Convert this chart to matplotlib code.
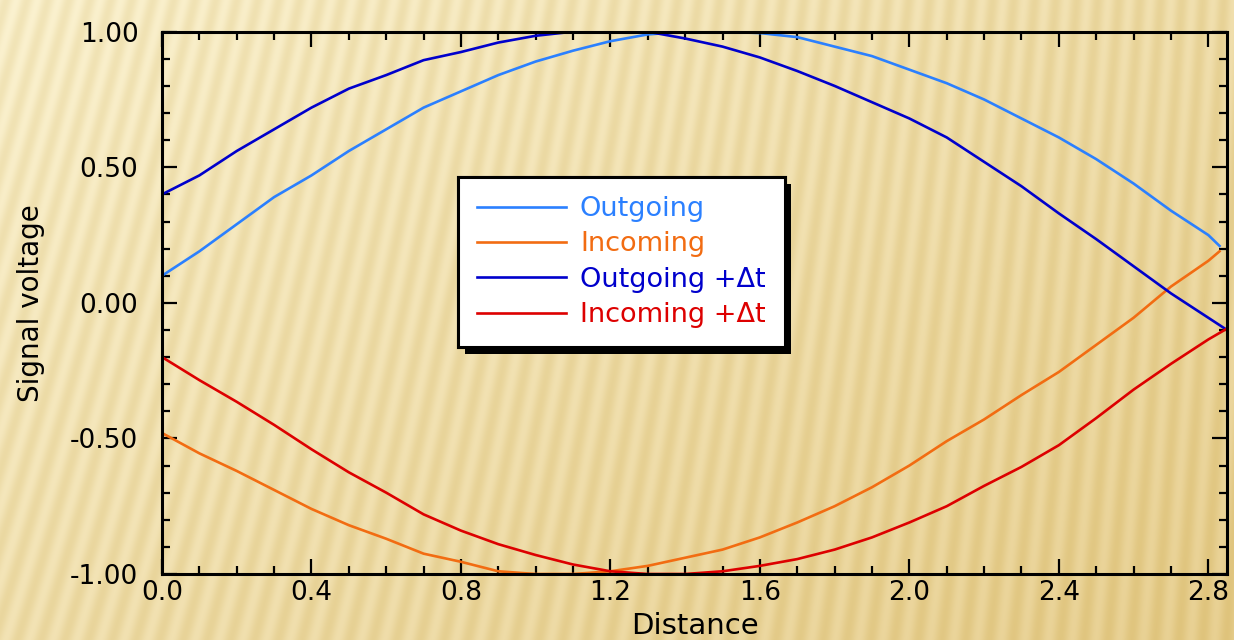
import numpy as np
import matplotlib
matplotlib.use('Agg')  # headless
import matplotlib.pyplot as plt
import matplotlib.patheffects as pe
from matplotlib.ticker import MultipleLocator, FormatStrFormatter

# -------------------------------
# Data
# -------------------------------

distance = [0.0, 0.1, 0.2, 0.3, 0.4, 0.5, 0.6, 0.7, 0.8, 0.9,
            1.0, 1.1, 1.2, 1.3, 1.4, 1.5, 1.6, 1.7, 1.8, 1.9,
            2.0, 2.1, 2.2, 2.3, 2.4, 2.5, 2.6, 2.7, 2.8]
distance_end = 2.83        # last sample of the two base traces
distance_end_dt = 2.85     # last sample of the two shifted traces

outgoing = [0.10, 0.19, 0.29, 0.39, 0.47, 0.56, 0.64, 0.72, 0.78, 0.84,
            0.89, 0.93, 0.965, 0.99, 1.0, 1.0, 0.995, 0.98, 0.945, 0.91,
            0.86, 0.81, 0.75, 0.68, 0.61, 0.53, 0.44, 0.34, 0.25, 0.21]
incoming = [-0.48, -0.555, -0.62, -0.69, -0.76, -0.82, -0.87, -0.925, -0.955, -0.99,
            -1.0, -1.0, -0.99, -0.97, -0.94, -0.91, -0.865, -0.81, -0.75, -0.68,
            -0.60, -0.51, -0.43, -0.34, -0.255, -0.155, -0.055, 0.06, 0.155, 0.19]
outgoing_dt = [0.40, 0.47, 0.56, 0.64, 0.72, 0.79, 0.84, 0.895, 0.925, 0.96,
               0.985, 1.0, 1.005, 1.0, 0.975, 0.945, 0.905, 0.855, 0.80, 0.74,
               0.68, 0.61, 0.52, 0.43, 0.33, 0.235, 0.135, 0.035, -0.055, -0.10]
incoming_dt = [-0.20, -0.285, -0.365, -0.45, -0.54, -0.625, -0.70, -0.78, -0.84, -0.89,
               -0.93, -0.965, -0.99, -1.0, -1.0, -0.99, -0.97, -0.945, -0.91, -0.865,
               -0.81, -0.75, -0.675, -0.605, -0.525, -0.425, -0.32, -0.225, -0.135, -0.095]

series = [
    ('Outgoing', outgoing, distance_end, '#2b80ff'),
    ('Incoming', incoming, distance_end, '#f26c12'),
    ('Outgoing +\u0394t', outgoing_dt, distance_end_dt, '#0000cc'),
    ('Incoming +\u0394t', incoming_dt, distance_end_dt, '#dd0000'),
]

# -------------------------------
# Figure
# -------------------------------

plt.rcParams['font.family'] = ['DejaVu Sans']
plt.rcParams['axes.unicode_minus'] = False

W, H = 1234, 640
fig = plt.figure(figsize=(W / 100, H / 100), dpi=100)

# striped golden backdrop
yy, xx = np.mgrid[0:H, 0:W].astype(float)
slant = 0.28 - 0.22 * xx / W
stripes = 0.5 + 0.5 * np.sin(2 * np.pi * (xx + slant * yy) / 21.0)
shade = 0.55 * (xx / W) + 0.45 * (yy / H)
light = np.array([251, 242, 208]) / 255.0
dark = np.array([232, 208, 146]) / 255.0
base = light[None, None, :] * (1 - shade[..., None]) + dark[None, None, :] * shade[..., None]
bg = base - stripes[..., None] * np.array([0.035, 0.05, 0.09])[None, None, :]
bg = np.clip(bg, 0, 1)

bg_ax = fig.add_axes([0, 0, 1, 1], zorder=-1)
bg_ax.imshow(bg, aspect='auto', interpolation='bilinear')
bg_ax.axis('off')

ax = fig.add_axes([162 / W, 66 / H, 1065 / W, 542.3 / H])
ax.patch.set_alpha(0)

for label, values, x_end, color in series:
    x = distance + [x_end]
    ax.plot(x, values, color=color, lw=1.9, label=label)

ax.set_xlim(0, 2.85)
ax.set_ylim(-1, 1)

ax.xaxis.set_major_locator(MultipleLocator(0.4))
ax.xaxis.set_minor_locator(MultipleLocator(0.1))
ax.yaxis.set_major_locator(MultipleLocator(0.5))
ax.yaxis.set_minor_locator(MultipleLocator(0.1))
ax.xaxis.set_major_formatter(FormatStrFormatter('%.1f'))
ax.yaxis.set_major_formatter(FormatStrFormatter('%.2f'))

ax.tick_params(which='both', direction='in', top=True, right=True,
               width=1.6, color='black', labelsize=19)
ax.tick_params(which='major', length=11)
ax.tick_params(which='minor', length=6)
ax.tick_params(axis='x', which='major', pad=4)
ax.tick_params(axis='y', which='major', pad=17)
for spine in ax.spines.values():
    spine.set_linewidth(2.2)

ax.set_xlabel('Distance', fontsize=21, labelpad=5)
ax.set_ylabel('Signal voltage', fontsize=20, labelpad=18)

leg = ax.legend(loc='upper left', bbox_to_anchor=(0.278, 0.732), borderaxespad=0,
                fontsize=19.5, labelcolor='linecolor', handlelength=3.3,
                handletextpad=0.5, labelspacing=0.35, borderpad=0.7,
                fancybox=False, framealpha=1, edgecolor='black')
frame = leg.get_frame()
frame.set_linewidth(2.2)
frame.set_facecolor('white')
frame.set_path_effects([
    pe.withSimplePatchShadow(offset=(5, -5), shadow_rgbFace='black', alpha=1),
    pe.Normal(),
])

fig.savefig('out.png', dpi=100)
plt.close(fig)
